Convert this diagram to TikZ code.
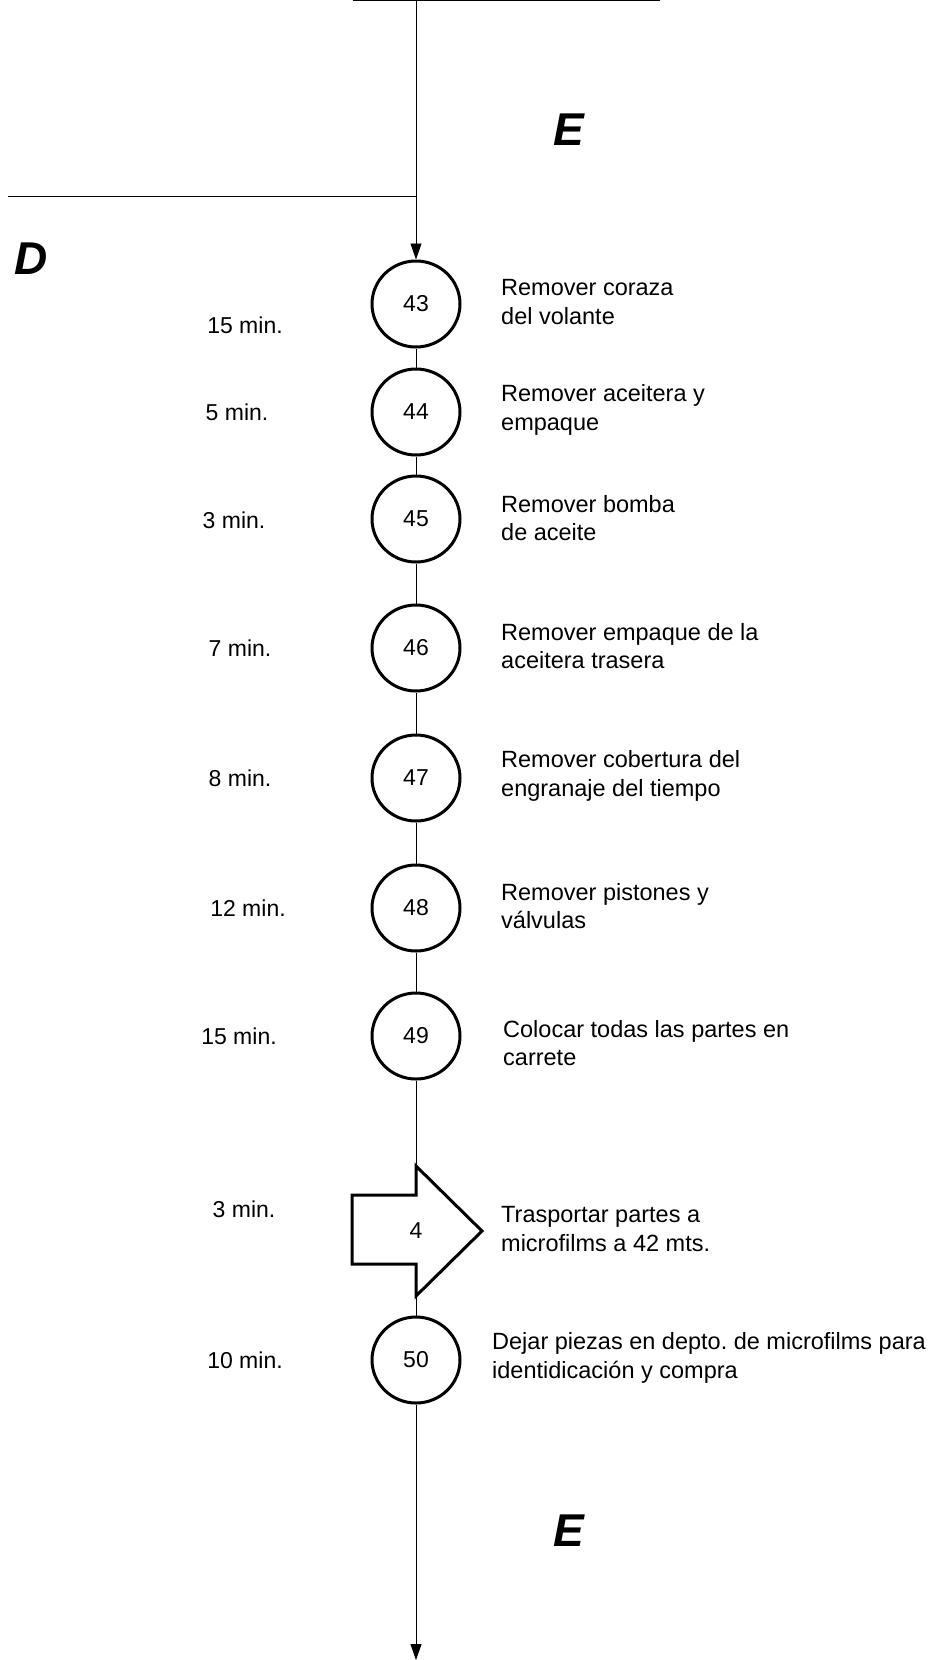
\documentclass[tikz,border=0pt]{standalone}
\usepackage{fontspec}
\setmainfont{Liberation Sans}
\usetikzlibrary{arrows.meta,calc,shapes.geometric}
\frenchspacing

\begin{document}
\begin{tikzpicture}[x=1pt,y=-1pt,
  opcircle/.style={draw,ellipse,line width=3pt,minimum width=88pt,minimum height=86pt,inner sep=0pt,font=\fontsize{23}{27}\selectfont},
  timelbl/.style={font=\fontsize{23}{28}\selectfont},
  desc/.style={anchor=west,align=left,inner sep=0pt,font=\fontsize{23.5}{28.6}\selectfont},
  zone/.style={font=\fontsize{46}{52}\selectfont\bfseries\itshape},
  flow/.style={line width=0.9pt}]
  \useasboundingbox (0,0) rectangle (934,1660);
  % zone letters
  \node[zone] (zoneE1) at (569,130) {E};
  \node[zone] (zoneD) at (31.5,258.5) {D};
  \node[zone] (zoneE2) at (569,1531) {E};
  % operations
  \foreach \n/\y/\tx/\ty/\lx/\ly/\txt in {%
    43/304/245/325/501/302/{Remover coraza\\del volante},
    44/412/237/412/501/410/{Remover aceitera y\\empaque},
    45/519/234/520/501/518/{Remover bomba\\de aceite},
    46/648/240/648/501/646/{Remover empaque de la\\aceitera trasera},
    47/778/240/778/501/776/{Remover cobertura del\\engranaje del tiempo},
    48/908/248/908/501/906/{Remover pistones y\\válvulas},
    49/1036/239/1036/503/1043/{Colocar todas las partes en\\carrete},
    50/1360/245/1360/492/1358/{Dejar piezas en depto. de microfilms para\\identidicación y compra}}{
    \node[opcircle] (op\n) at (416,\y) {\n};
    \node[timelbl] (time\n) at (\tx,\ty) {\ifnum\n=43 15\else\ifnum\n=44 5\else\ifnum\n=45 3\else\ifnum\n=46 7\else\ifnum\n=47 8\else\ifnum\n=48 12\else\ifnum\n=49 15\else 10\fi\fi\fi\fi\fi\fi\fi{} min.};
    \node[desc] (desc\n) at (\lx,\ly) {\txt};
  }
  % transport
  \node[font=\fontsize{23}{27}\selectfont] (op4) at (416,1231) {4};
  \draw[line width=3pt,line join=miter] ($(op4)+(0,-65)$) -- ($(op4)+(66,0)$) -- ($(op4)+(0,65)$)
    -- ($(op4)+(0,33)$) -- ($(op4)+(-64,33)$) -- ($(op4)+(-64,-36)$) -- ($(op4)+(0,-36)$) -- cycle;
  \coordinate (op4in) at ($(op4)+(0,-65)$);
  \coordinate (op4out) at ($(op4)+(0,65)$);
  \node[timelbl] (time4) at (244,1209) {3 min.};
  \node[desc] (desc4) at (501,1229) {Trasportar partes a\\microfilms a 42 mts.};
  % lines
  \coordinate (topin) at (416,0);
  \coordinate (tl) at (353,0);
  \coordinate (tr) at (660,0);
  \coordinate (dl) at (8,196);
  \coordinate (botout) at (416,1660);
  \draw[line width=2pt] (tl) -- (tr);
  \draw[flow] (dl) -- (dl -| topin);
  \draw[flow,-{Triangle[length=16pt,width=11pt]}] (topin) -- (op43);
  \foreach \a/\b in {43/44,44/45,45/46,46/47,47/48,48/49}
    \draw[flow] (op\a) -- (op\b);
  \draw[flow] (op49) -- (op4in);
  \draw[flow] (op4out) -- (op50);
  \draw[flow,-{Triangle[length=16pt,width=11pt]}] (op50) -- (botout);
\end{tikzpicture}
\end{document}
